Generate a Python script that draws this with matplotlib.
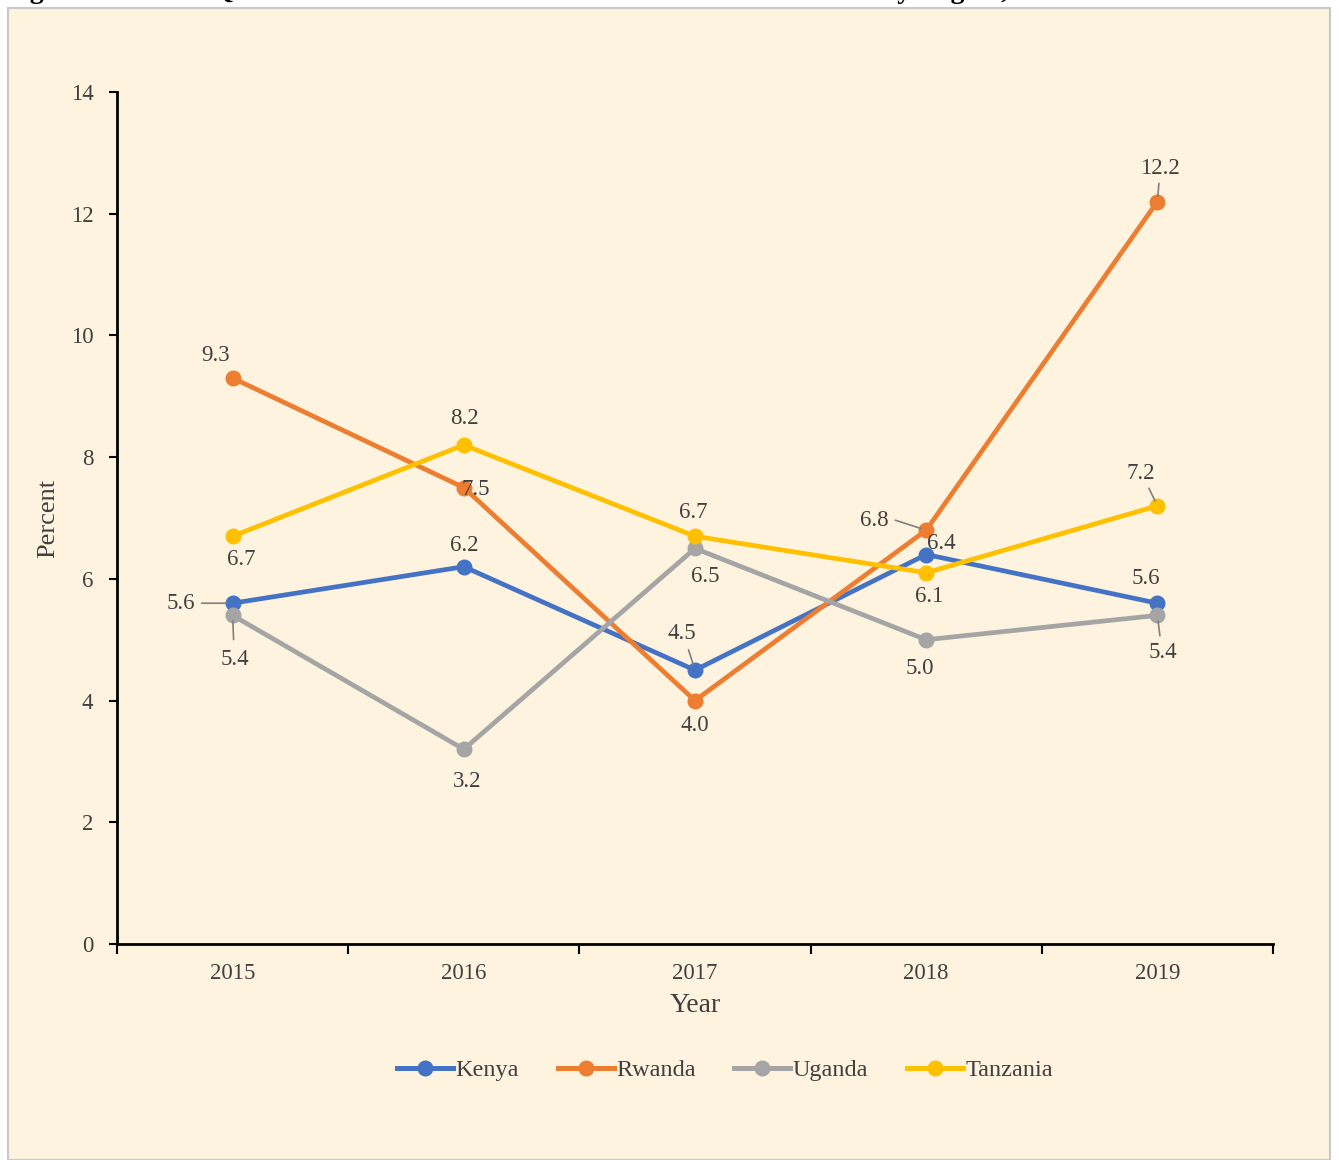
import numpy as np
import matplotlib
matplotlib.use("Agg")
import matplotlib.pyplot as plt
from matplotlib.patches import Rectangle
from matplotlib.lines import Line2D

plt.rcParams['font.family'] = ['Liberation Serif', 'DejaVu Serif']

# --- data ---
years = ['2015', '2016', '2017', '2018', '2019']
countries = ['Kenya', 'Rwanda', 'Uganda', 'Tanzania']
kenya = [5.6, 6.2, 4.5, 6.4, 5.6]
rwanda = [9.3, 7.5, 4.0, 6.8, 12.2]
uganda = [5.4, 3.2, 6.5, 5.0, 5.4]
tanzania = [6.7, 8.2, 6.7, 6.1, 7.2]

colors = ['#4472C4', '#ED7D31', '#A5A5A5', '#FFC000']

# label offsets in pixels (dx, dy)
label_offsets = {
    'Kenya':    [(-52, 0), (0, 21), (-13, 37), (15, 11), (-12, 25)],
    'Rwanda':   [(-17, 23), (12, -2), (0, -25), (-52, 10), (3, 33)],
    'Uganda':   [(2, -44), (3, -32), (10, -28), (-6, -29), (5, -37)],
    'Tanzania': [(9, -23), (1, 26), (-2, 24), (3, -24), (-17, 32)],
}
# which labels get a grey leader line
leaders = {
    'Kenya':    [True, False, True, False, False],
    'Rwanda':   [False, False, False, True, True],
    'Uganda':   [True, False, False, False, True],
    'Tanzania': [False, False, False, False, True],
}

series = [kenya, rwanda, uganda, tanzania]
x = np.arange(len(years))

fig = plt.figure(figsize=(13.39, 11.6), dpi=100)
fig.patch.set_facecolor('white')

# parchment panel behind the chart
panel = Rectangle((8 / 1339, 0), 1322 / 1339, 1 - 8 / 1160,
                  transform=fig.transFigure, facecolor='#FDF3DE',
                  edgecolor='#C8C8C8', linewidth=1.5, zorder=-10)
fig.patches.append(panel)

# caption, cut off at the top edge as in the source
fig.text(0.004, 1.0 + 2 / 1160,
         'Figure 1: Second Quarter Economic Growth in the East African Community Region, 2015-2019',
         fontsize=20, fontweight='bold', ha='left', va='baseline', color='black')

ax = fig.add_axes([117 / 1339, 1 - 944 / 1160, (1273 - 117) / 1339, (944 - 92) / 1160])
ax.set_facecolor('none')

for name, vals, c in zip(countries, series, colors):
    ax.plot(x, vals, color=c, linewidth=3.4, marker='o', markersize=10.5,
            label=name, zorder=3, solid_capstyle='round')

for name, vals in zip(countries, series):
    for i, v in enumerate(vals):
        dx, dy = label_offsets[name][i]
        ax.annotate(f'{v:.1f}', (x[i], v), xytext=(dx, dy), textcoords='offset pixels',
                    ha='center', va='center', fontsize=16.5, color='#404040', zorder=5)
        if leaders[name][i]:
            if abs(dx) > 20 and abs(dy) < 15:
                sx, sy = dx + (21 if dx < 0 else -21), dy
            else:
                sx, sy = dx * 0.5, dy * 0.55
            ax.annotate('', (x[i], v), xytext=(sx, sy), textcoords='offset pixels',
                        arrowprops=dict(arrowstyle='-', color='#808080', lw=1.2,
                                        shrinkA=0, shrinkB=4), zorder=4)

ax.set_xlim(-0.5, len(years) - 0.5)
ax.set_ylim(0, 14)
ax.set_yticks(np.arange(0, 15, 2))
ax.set_xticks(x)
ax.set_xticklabels(years)
ax.set_xticks(np.arange(-0.5, len(years), 1), minor=True)
ax.tick_params(axis='x', which='major', length=0, pad=14, labelsize=16.5, labelcolor='#404040')
ax.tick_params(axis='x', which='minor', length=7, width=1.5, direction='out', color='black')
ax.tick_params(axis='y', length=6, width=1.5, direction='out', pad=11, labelsize=16.5, labelcolor='#404040')

for s in ['top', 'right']:
    ax.spines[s].set_visible(False)
for s in ['left', 'bottom']:
    ax.spines[s].set_linewidth(2)
    ax.spines[s].set_color('black')

ax.set_xlabel('Year', fontsize=20, color='#404040', labelpad=6)
ax.set_ylabel('Percent', fontsize=19, color='#404040', labelpad=8)

handles = [Line2D([0], [0], color=c, linewidth=3.6, marker='o', markersize=10.5) for c in colors]
fig.legend(handles, countries, loc='center', bbox_to_anchor=(725 / 1339, 1 - 1070 / 1160),
           ncol=4, frameon=False, fontsize=17.5, handlelength=2.3, handletextpad=0.1,
           columnspacing=1.6, labelcolor='#404040')

fig.savefig('out.png', dpi=100)
